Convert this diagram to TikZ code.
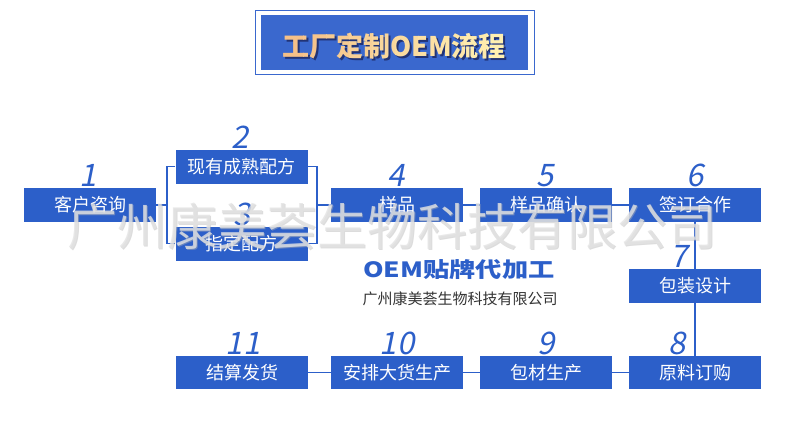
\documentclass[tikz,border=0pt]{standalone}
\usepackage{fontspec}
\setmainfont{Noto Sans CJK SC}
\newfontfamily\numfont{Noto Sans CJK SC}[FakeSlant=0.2]
\definecolor{boxblue}{HTML}{2C5FC9}
\definecolor{titleblue}{HTML}{3A68CE}
\definecolor{goldL}{HTML}{F5C088}
\definecolor{goldR}{HTML}{FFF1B2}
\definecolor{shadowblue}{HTML}{1E2A66}
\definecolor{subgray}{HTML}{333333}
\begin{document}
\begin{tikzpicture}[x=1pt,y=-1pt,
  box/.style={fill=boxblue, text=white, minimum width=132pt, minimum height=34pt, inner sep=0pt, font=\fontsize{18}{18}\selectfont},
  num/.style={text=boxblue, anchor=base, inner sep=0pt, font=\numfont\fontsize{31}{31}\selectfont},
  link/.style={draw=boxblue, line width=1.5pt},
  titletext/.style={anchor=base, inner sep=0pt, font=\bfseries\fontsize{27}{27}\selectfont},
  wmtext/.style={anchor=base, inner sep=0pt, font=\fontsize{50}{50}\selectfont}]
\useasboundingbox (0,0) rectangle (790,437);
\fill[white] (0,0) rectangle (790,437);
% title
\node (tframe) [draw=titleblue, line width=1.5pt, minimum width=279pt, minimum height=64pt, inner sep=0pt] at (395,42.5) {};
\node (tbox) [fill=titleblue, minimum width=267pt, minimum height=55pt, inner sep=0pt] at (394.5,42.5) {};
\node (tshadow) [titletext, text=shadowblue, opacity=0.85] at (396,58) {工厂定制OEM流程};
\foreach \i in {0,...,9} {
  \pgfmathtruncatemacro\pct{\i*11}
  \begin{scope}
    \clip (280+\i*23,25) rectangle ++(23,40);
    \node (title\i) [titletext, text=goldR!\pct!goldL] at (394,56) {工厂定制OEM流程};
  \end{scope}
}
% boxes
\node (b1) [box] at (90,205) {客户咨询};
\node (b2) [box] at (241.5,166.5) {现有成熟配方};
\node (b3) [box] at (241.5,243.5) {指定配方};
\node (b4) [box] at (397,205) {样品};
\node (b5) [box] at (546,205) {样品确认};
\node (b6) [box] at (695,205) {签订合作};
\node (b7) [box] at (695,286) {包装设计};
\node (b8) [box, minimum height=33pt] at (695,372.5) {原料订购};
\node (b9) [box, minimum height=33pt] at (546,372.5) {包材生产};
\node (b10) [box, minimum height=33pt] at (397,372.5) {安排大货生产};
\node (b11) [box, minimum height=33pt] at (242,372.5) {结算发货};
% numbers
\node (n1) [num] at (88,186) {1};
\node (n2) [num] at (240,148) {2};
\node (n3) [num] at (242,225) {3};
\node (n4) [num] at (396,186) {4};
\node (n5) [num] at (545,186) {5};
\node (n6) [num] at (695,186) {6};
\node (n7) [num] at (679,267) {7};
\node (n8) [num] at (677,354) {8};
\node (n9) [num] at (546,354) {9};
\node (n10) [num] at (397,354) {10};
\node (n11) [num] at (243,354) {11};
% connectors
\coordinate (fl) at (167,205);
\coordinate (fr) at (317,205);
\draw[link] (b1.east) -- (fl);
\draw[link] (b2.west) -| (fl) |- (b3.west);
\draw[link] (b2.east) -| (fr) |- (b3.east);
\draw[link] (fr) -- (b4.west);
\draw[link] (b4) -- (b5);
\draw[link] (b5) -- (b6);
\draw[link] (b6) -- (b7);
\draw[link] (b7) -- (b8);
\draw[link] (b8) -- (b9);
\draw[link] (b9) -- (b10);
\draw[link] (b10) -- (b11);
% center text
\node (oem) [anchor=base, inner sep=0pt, text=boxblue, xscale=1.25, font=\bfseries\fontsize{21}{21}\selectfont] at (459,277) {OEM贴牌代加工};
\node (sub) [anchor=base, inner sep=0pt, text=subgray, font=\fontsize{15}{15}\selectfont] at (460,304) {广州康美荟生物科技有限公司};
% watermark
\node (wmshade) [wmtext, text=black!30, opacity=0.45] at (393.5,246) {广州康美荟生物科技有限公司};
\node (wm) [wmtext, text=black!11, opacity=0.8] at (392.5,245) {广州康美荟生物科技有限公司};
\end{tikzpicture}
\end{document}
